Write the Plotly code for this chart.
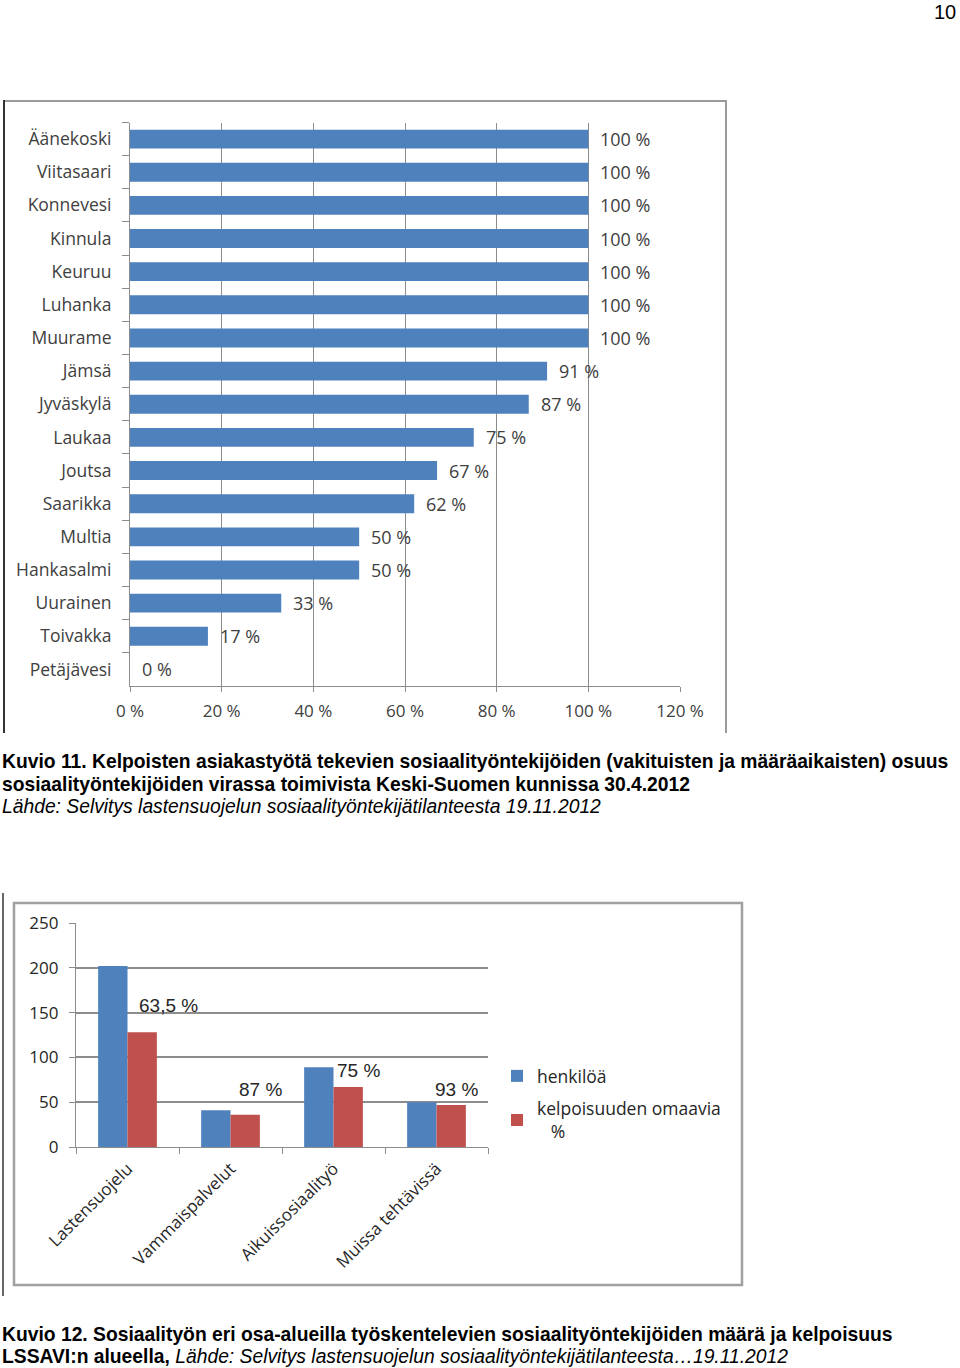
import plotly.graph_objects as go

W, H = 960, 1368

# ---------- Data: chart 1 (Kuvio 11) ----------
municipalities = ["Äänekoski", "Viitasaari", "Konnevesi", "Kinnula", "Keuruu", "Luhanka",
                  "Muurame", "Jämsä", "Jyväskylä", "Laukaa", "Joutsa", "Saarikka",
                  "Multia", "Hankasalmi", "Uurainen", "Toivakka", "Petäjävesi"]
share_pct = [100, 100, 100, 100, 100, 100, 100, 91, 87, 75, 67, 62, 50, 50, 33, 17, 0]
x_ticks = [0, 20, 40, 60, 80, 100, 120]
x_ticklabels = ["0 %", "20 %", "40 %", "60 %", "80 %", "100 %", "120 %"]

# ---------- Data: chart 2 (Kuvio 12) ----------
areas = ["Lastensuojelu", "Vammaispalvelut", "Aikuissosiaalityö", "Muissa tehtävissä"]
persons = [202, 41, 89, 50]
qualified = [128, 36, 67, 47]
qualified_pct_labels = ["63,5 %", "87 %", "75 %", "93 %"]
y2_ticks = [0, 50, 100, 150, 200, 250]

BLUE = "#4F81BD"
RED = "#C0504D"
GRID = "#8c8c8c"
TXT = "#404040"
LABEL_FONT = "Open Sans"


def px(x):
    return x / W


def py(y):
    return 1 - y / H


fig = go.Figure()

# Chart 1 bars
fig.add_trace(go.Bar(
    y=municipalities, x=share_pct, orientation="h",
    marker=dict(color=BLUE, line=dict(width=0)),
    xaxis="x", yaxis="y", showlegend=False, hoverinfo="x+y",
))

# Chart 2 bars
fig.add_trace(go.Bar(
    x=areas, y=persons, name="henkilöä",
    marker=dict(color=BLUE, line=dict(width=0)),
    xaxis="x2", yaxis="y2", legendgroup="a",
))
fig.add_trace(go.Bar(
    x=areas, y=qualified, name="kelpoisuuden omaavia<br>\u00a0\u00a0\u00a0%",
    marker=dict(color=RED, line=dict(width=0)),
    xaxis="x2", yaxis="y2", legendgroup="b",
))

annotations = []

# Data labels chart 1
for m, v in zip(municipalities, share_pct):
    annotations.append(dict(
        x=v, y=m, xref="x", yref="y", text=f"{v} %", showarrow=False,
        xanchor="left", yanchor="middle", xshift=10,
        font=dict(family=LABEL_FONT, size=18, color=TXT),
    ))

# Percentage labels chart 2 (positions are layout choices)
pct_label_y = [158, 64, 85, 64]
pct_label_xshift = [41, 30, 25, 20]
for a, t, yy, xs in zip(areas, qualified_pct_labels, pct_label_y, pct_label_xshift):
    annotations.append(dict(
        x=a, y=yy, xref="x2", yref="y2", text=t, showarrow=False,
        xanchor="center", yanchor="middle", xshift=xs,
        font=dict(family="Liberation Sans", size=19, color="#262626"),
    ))

# Captions
cap_font = dict(family="Liberation Sans", size=19.3, color="#000000")
captions = [
    (762, "<b>Kuvio 11. Kelpoisten asiakastyötä tekevien sosiaalityöntekijöiden (vakituisten ja määräaikaisten) osuus</b>"),
    (784, "<b>sosiaalityöntekijöiden virassa toimivista Keski-Suomen kunnissa 30.4.2012</b>"),
    (806, "<i>Lähde: Selvitys lastensuojelun sosiaalityöntekijätilanteesta 19.11.2012</i>"),
    (1334, "<b>Kuvio 12. Sosiaalityön eri osa-alueilla työskentelevien sosiaalityöntekijöiden määrä ja kelpoisuus</b>"),
    (1356, "<b>LSSAVI:n alueella,</b> <i>Lähde: Selvitys lastensuojelun sosiaalityöntekijätilanteesta…19.11.2012</i>"),
]
for yy, t in captions:
    annotations.append(dict(
        x=px(0), y=py(yy), xref="paper", yref="paper", text=t, showarrow=False,
        xanchor="left", yanchor="middle", font=cap_font,
    ))

# Page number
annotations.append(dict(
    x=px(958), y=py(12), xref="paper", yref="paper", text="10", showarrow=False,
    xanchor="right", yanchor="middle",
    font=dict(family="Liberation Sans", size=20, color="#000000"),
))

shapes = [
    # Chart 1 frame
    dict(type="line", xref="paper", yref="paper", x0=px(3), x1=px(727), y0=py(101), y1=py(101),
         line=dict(color="#9a9a9a", width=2)),
    dict(type="line", xref="paper", yref="paper", x0=px(726), x1=px(726), y0=py(100), y1=py(733),
         line=dict(color="#9a9a9a", width=2)),
    dict(type="line", xref="paper", yref="paper", x0=px(4), x1=px(4), y0=py(100), y1=py(733),
         line=dict(color="#333333", width=2)),
    # Chart 2 frame
    dict(type="rect", xref="paper", yref="paper", x0=px(14), x1=px(742), y0=py(903), y1=py(1285),
         line=dict(color="#a0a0a0", width=2.5)),
    dict(type="line", xref="paper", yref="paper", x0=px(3), x1=px(3), y0=py(893), y1=py(1296),
         line=dict(color="#333333", width=1.5)),
]

fig.update_layout(
    width=W, height=H,
    margin=dict(l=0, r=0, t=0, b=0, autoexpand=False),
    paper_bgcolor="white", plot_bgcolor="white",
    barmode="group",
    bargap=0.43, bargroupgap=0,
    annotations=annotations,
    shapes=shapes,
    legend=dict(
        x=px(497), y=py(1058), xanchor="left", yanchor="top",
        font=dict(family=LABEL_FONT, size=17.5, color="#262626"),
        traceorder="grouped", tracegroupgap=7,
        bgcolor="rgba(0,0,0,0)",
    ),
    xaxis=dict(
        domain=[px(130), px(680)], anchor="y", range=[0, 120],
        tickvals=x_ticks, ticktext=x_ticklabels,
        showgrid=True, gridcolor=GRID, gridwidth=1,
        zeroline=False, showline=True, linecolor=GRID, linewidth=1,
        ticks="outside", ticklen=5, tickcolor=GRID,
        tickfont=dict(family=LABEL_FONT, size=17, color=TXT),
        ticklabelstandoff=5, fixedrange=True, automargin=False,
    ),
    yaxis=dict(
        domain=[py(686), py(122.5)], anchor="x",
        type="category", categoryorder="array", categoryarray=municipalities,
        range=[len(municipalities) - 0.5, -0.5],
        showgrid=False, zeroline=False, showline=True, linecolor=GRID, linewidth=1,
        ticks="outside", ticklen=7, tickcolor=GRID, tickson="boundaries",
        tickfont=dict(family=LABEL_FONT, size=17.5, color=TXT),
        ticklabelstandoff=14, fixedrange=True, automargin=False,
    ),
    xaxis2=dict(
        domain=[px(76), px(488)], anchor="y2",
        type="category", categoryorder="array", categoryarray=areas,
        showgrid=False, zeroline=False, showline=True, linecolor=GRID, linewidth=1.3,
        ticks="outside", ticklen=6, tickcolor=GRID, tickson="boundaries",
        tickangle=-45,
        tickfont=dict(family=LABEL_FONT, size=17, color="#262626"),
        ticklabelstandoff=4, fixedrange=True, automargin=False,
    ),
    yaxis2=dict(
        domain=[py(1147), py(923)], anchor="x2", range=[0, 250],
        tickvals=y2_ticks,
        showgrid=True, gridcolor=GRID, gridwidth=1.5,
        zeroline=False, showline=True, linecolor=GRID, linewidth=1.3,
        ticks="outside", ticklen=6, tickcolor=GRID,
        tickfont=dict(family=LABEL_FONT, size=17, color="#262626"),
        ticklabelstandoff=7, fixedrange=True, automargin=False,
    ),
)

fig.write_html(
    "out.html",
    config={"displayModeBar": False},
    post_script="document.body.style.margin='0';document.body.style.overflow='hidden';",
)
